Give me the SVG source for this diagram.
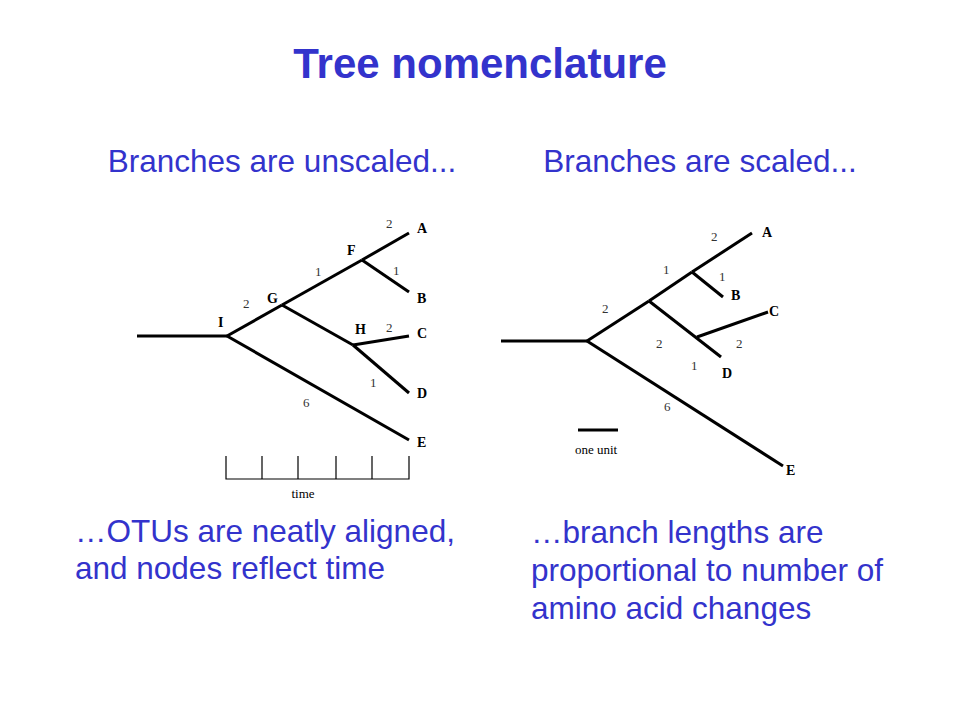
<svg xmlns="http://www.w3.org/2000/svg" width="960" height="720" viewBox="0 0 960 720">
<style>
.bg{fill:#ffffff}
.head{font-family:"Liberation Sans",Arial,sans-serif;fill:#3333cc}
.title{font-size:42px;font-weight:bold}
.sub{font-size:31.5px}
.br{stroke:#000;stroke-width:3;fill:none;stroke-linecap:butt}
.lbl{font-family:"Liberation Serif","Times New Roman",serif;font-size:14px;font-weight:bold;fill:#000}
.num{font-family:"Liberation Serif","Times New Roman",serif;font-size:13px;fill:#333}
.small{font-family:"Liberation Serif","Times New Roman",serif;font-size:13px;fill:#000}
.tick{stroke:#000;stroke-width:1.2;fill:none}
</style>
<rect class="bg" x="0" y="0" width="960" height="720"/>
<g id="title"><text class="head title" x="480" y="78" text-anchor="middle">Tree nomenclature</text></g>
<g id="subtitles">
<text class="head sub" x="282" y="172" text-anchor="middle">Branches are unscaled...</text>
<text class="head sub" x="700" y="172" text-anchor="middle">Branches are scaled...</text>
</g>
<g id="captions">
<text class="head sub" x="75" y="542">…OTUs are neatly aligned,</text>
<text class="head sub" x="75" y="579">and nodes reflect time</text>
<text class="head sub" x="531" y="543">…branch lengths are</text>
<text class="head sub" x="531" y="581">proportional to number of</text>
<text class="head sub" x="531" y="619">amino acid changes</text>
</g>
<g id="connectors">
<!-- left tree -->
<line class="br" x1="137" y1="336" x2="227" y2="336"/>
<line class="br" x1="227" y1="336" x2="282" y2="305"/>
<line class="br" x1="282" y1="305" x2="362" y2="260"/>
<line class="br" x1="362" y1="260" x2="409" y2="233"/>
<line class="br" x1="362" y1="260" x2="409" y2="292"/>
<line class="br" x1="282" y1="305" x2="353" y2="345"/>
<line class="br" x1="353" y1="345" x2="409" y2="336"/>
<line class="br" x1="353" y1="345" x2="409" y2="393"/>
<line class="br" x1="227" y1="336" x2="409" y2="440"/>
<!-- right tree -->
<line class="br" x1="501" y1="341" x2="587" y2="341"/>
<line class="br" x1="587" y1="341" x2="649" y2="301"/>
<line class="br" x1="649" y1="301" x2="692" y2="272"/>
<line class="br" x1="692" y1="272" x2="752" y2="233"/>
<line class="br" x1="692" y1="272" x2="723" y2="297"/>
<line class="br" x1="649" y1="301" x2="721" y2="357"/>
<line class="br" x1="697" y1="337" x2="768" y2="312"/>
<line class="br" x1="587" y1="341" x2="783" y2="466"/>
</g>
<g id="left-tree-labels">
<g id="L-A"><text class="lbl" x="417" y="233">A</text></g>
<g id="L-B"><text class="lbl" x="417" y="303">B</text></g>
<g id="L-C"><text class="lbl" x="417" y="338">C</text></g>
<g id="L-D"><text class="lbl" x="417" y="398">D</text></g>
<g id="L-E"><text class="lbl" x="417" y="447">E</text></g>
<g id="L-F"><text class="lbl" x="347" y="255">F</text></g>
<g id="L-G"><text class="lbl" x="267" y="303">G</text></g>
<g id="L-H"><text class="lbl" x="355" y="334">H</text></g>
<g id="L-I"><text class="lbl" x="218" y="327">I</text></g>
<g id="L-nums">
<text class="num" x="386" y="228">2</text>
<text class="num" x="393" y="275">1</text>
<text class="num" x="315" y="276">1</text>
<text class="num" x="243" y="308">2</text>
<text class="num" x="386" y="332">2</text>
<text class="num" x="370" y="387">1</text>
<text class="num" x="303" y="407">6</text>
</g>
</g>
<g id="time-scale">
<path class="tick" d="M226 456V479H409V456M262 456V479M298 456V479M336 456V479M372 456V479"/>
<text class="small" x="303" y="498" text-anchor="middle">time</text>
</g>
<g id="right-tree-labels">
<g id="R-A"><text class="lbl" x="762" y="237">A</text></g>
<g id="R-B"><text class="lbl" x="731" y="300">B</text></g>
<g id="R-C"><text class="lbl" x="769" y="316">C</text></g>
<g id="R-D"><text class="lbl" x="722" y="378">D</text></g>
<g id="R-E"><text class="lbl" x="786" y="475">E</text></g>
<g id="R-nums">
<text class="num" x="711" y="241">2</text>
<text class="num" x="663" y="274">1</text>
<text class="num" x="719" y="281">1</text>
<text class="num" x="602" y="313">2</text>
<text class="num" x="656" y="348">2</text>
<text class="num" x="736" y="348">2</text>
<text class="num" x="691" y="370">1</text>
<text class="num" x="664" y="411">6</text>
</g>
</g>
<g id="unit-scale">
<line class="br" x1="578" y1="430" x2="618" y2="430"/>
<text class="small" x="596" y="454" text-anchor="middle">one unit</text>
</g>
</svg>
